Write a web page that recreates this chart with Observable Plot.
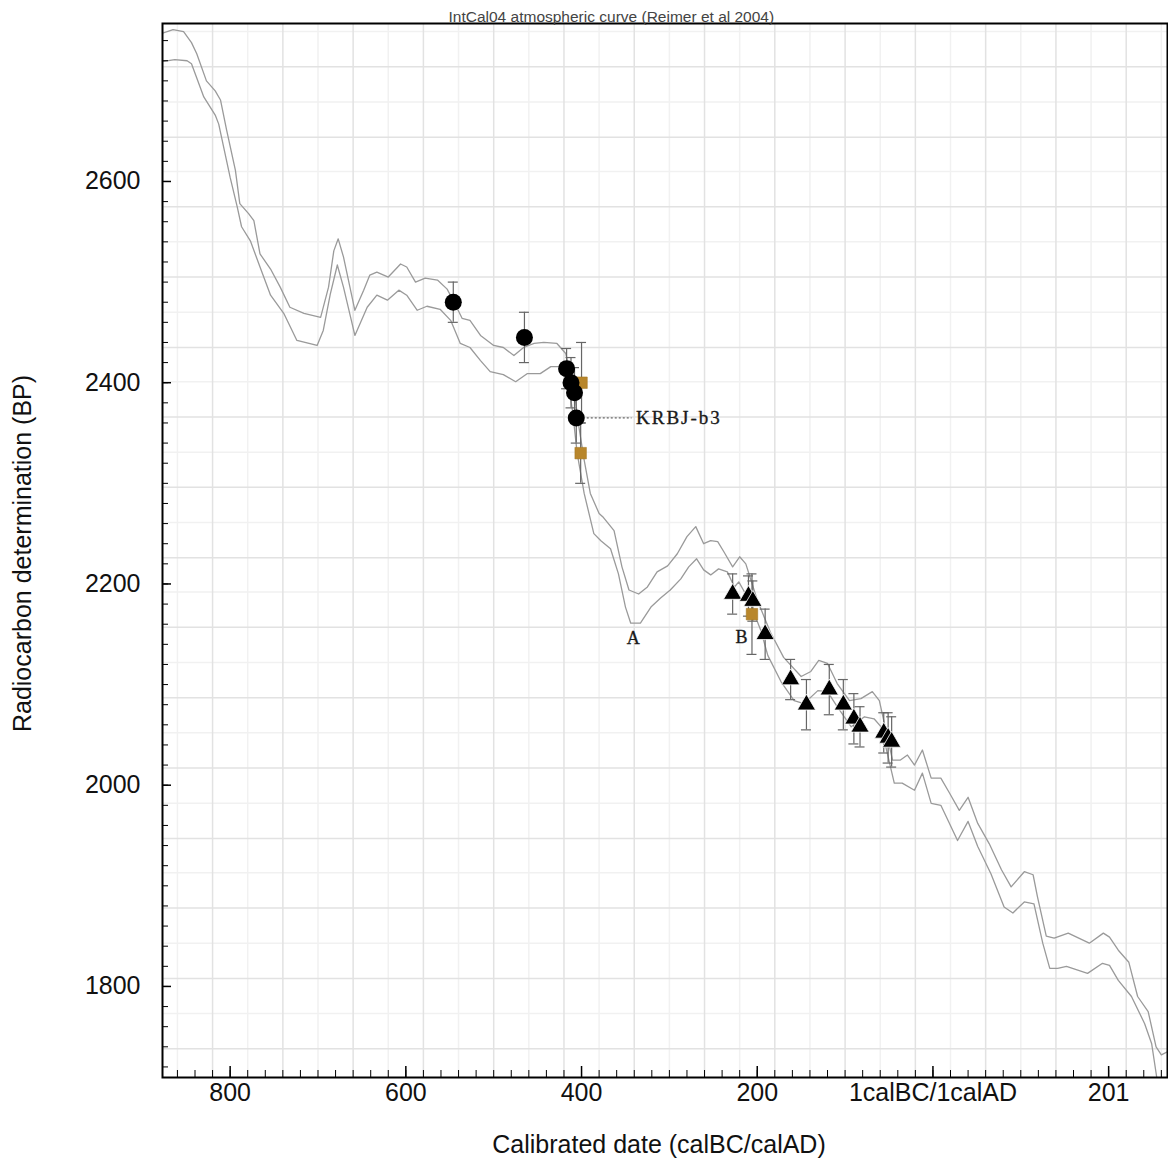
<!DOCTYPE html>
<html><head><meta charset="utf-8">
<script src="https://cdn.jsdelivr.net/npm/d3@7"></script>
<script src="https://cdn.jsdelivr.net/npm/@observablehq/plot@0.6"></script>
<style>html,body{margin:0;padding:0;background:#fff;}</style>
</head><body><div id="chart"></div>
<script>
// ---- Data (years: negative = BC, positive = AD) ----
const titleText = "IntCal04 atmospheric curve (Reimer et al 2004)";
const xTitle = "Calibrated date (calBC/calAD)";
const yTitle = "Radiocarbon determination (BP)";

const xDomain = [-877, 267];
const yDomain = [1709.5, 2757];

const xMajor = [-800, -600, -400, -200, 0, 200];
const xLabels = ["800", "600", "400", "200", "1calBC/1calAD", "201"];
const yMajor = [1800, 2000, 2200, 2400, 2600];

const gridXStrong = [-820,-740,-660,-580,-500,-420,-340,-260,-180,-100,-20,60,140,220];
const gridXFaint = [-860,-780,-700,-620,-540,-460,-380,-300,-220,-140,-60,20,100,180,260];
const gridYStrong = [2714,2644,2575,2505,2435,2366,2296,2226,2157,2087,2017,1947,1878,1808,1738];
const gridYFaint = [2749,2679,2610,2540,2470,2401,2331,2261,2192,2122,2052,1982,1913,1843,1773];

const upperYears = [-878,-865,-853,-844,-838,-827,-817,-811,-804,-794,-789,-779,-773,-766,-754,-743,-732,-716,-697,-688,-682,-677,-671,-658,-648,-641,-633,-620,-606,-599,-589,-578,-564,-553,-545,-536,-527,-515,-500,-489,-477,-466,-454,-443,-428,-418,-410,-405,-403,-397,-390,-380,-375,-363,-354,-346,-335,-325,-314,-302,-291,-280,-270,-261,-253,-245,-238,-228,-220,-213,-200,-185,-170,-150,-139,-130,-120,-109,-95,-82,-69,-61,-46,-37,-29,-21,-12,-2,9,19,30,40,51,64,78,89,104,114,119,129,138,154,178,194,201,211,223,233,245,254,260,267];
const upperBP = [2747,2751,2749,2738,2727,2700,2690,2681,2651,2611,2578,2568,2561,2528,2513,2495,2475,2469,2465,2495,2531,2543,2525,2472,2492,2507,2510,2505,2518,2515,2500,2504,2502,2493,2480,2464,2462,2447,2437,2435,2427,2435,2439,2440,2439,2429,2400,2370,2356,2323,2290,2270,2266,2253,2217,2194,2190,2197,2212,2218,2230,2247,2257,2240,2243,2242,2232,2217,2227,2220,2184,2152,2127,2108,2113,2124,2121,2101,2084,2086,2093,2084,2025,2025,2030,2020,2035,2007,2007,1992,1975,1988,1962,1942,1916,1899,1914,1911,1889,1850,1848,1853,1843,1853,1849,1836,1824,1790,1775,1740,1732,1735];

const lowerYears = [-878,-863,-849,-844,-830,-817,-813,-800,-792,-787,-777,-766,-754,-739,-724,-701,-694,-686,-678,-671,-658,-644,-633,-621,-608,-599,-587,-576,-561,-549,-538,-527,-515,-504,-489,-475,-462,-447,-435,-424,-415,-410,-405,-397,-386,-378,-367,-358,-350,-344,-333,-321,-310,-299,-287,-278,-269,-261,-253,-244,-234,-226,-221,-210,-196,-188,-173,-158,-147,-131,-120,-109,-93,-78,-67,-59,-44,-35,-21,-12,-2,9,28,40,51,66,81,91,104,115,125,133,142,152,176,193,201,211,226,241,249,254,258];
const lowerBP = [2719,2721,2720,2717,2684,2666,2657,2604,2575,2555,2541,2515,2487,2469,2442,2437,2452,2488,2517,2495,2447,2475,2487,2482,2492,2487,2472,2476,2473,2462,2439,2435,2422,2411,2408,2401,2409,2409,2416,2416,2400,2370,2330,2290,2250,2243,2235,2210,2177,2161,2161,2177,2186,2194,2205,2217,2225,2214,2209,2215,2212,2197,2202,2185,2154,2129,2103,2084,2081,2094,2093,2078,2058,2068,2066,2058,2002,2002,1995,2012,1982,1980,1945,1964,1939,1912,1879,1873,1884,1882,1843,1818,1818,1820,1813,1823,1821,1806,1790,1763,1743,1714,1690];

const circleYears = [-546, -465, -417, -412, -408, -406];
const circleBP    = [2480, 2445, 2414, 2400, 2390, 2365];
const circleErr   = [20, 25, 20, 25, 25, 25];

const squareYears = [-400, -401, -206];
const squareBP    = [2400, 2330, 2170];
const squareErr   = [40, 30, 40];

const triangleYears = [-228, -210, -205, -191, -162, -144, -118, -102, -90, -83, -56, -51, -47];
const triangleBP    = [2190, 2188, 2183, 2150, 2105, 2080, 2095, 2080, 2066, 2058, 2052, 2047, 2043];
const triangleErr   = [20, 20, 20, 25, 20, 25, 25, 25, 25, 20, 20, 25, 25];

const annoText  = ["KRBJ-b3", "A", "B"];
const annoYears = [-338, -341, -218];
const annoBP    = [2365, 2146, 2147];
const leaderFromYear = -406;

// ---- Build tables ----
const zipSeries = (xs, ys) => xs.slice(0, Math.min(xs.length, ys.length)).map((x, i) => ({year: x, bp: ys[i]}));
const upper = zipSeries(upperYears, upperBP);
const lower = zipSeries(lowerYears, lowerBP);
const pts = (xs, ys, es) => xs.map((x, i) => ({year: x, bp: ys[i], err: es[i]}));
const circles = pts(circleYears, circleBP, circleErr);
const squares = pts(squareYears, squareBP, squareErr);
const triangles = pts(triangleYears, triangleBP, triangleErr);
const allPts = [...squares, ...circles, ...triangles];
const annos = annoText.map((t, i) => ({text: t, year: annoYears[i], bp: annoBP[i]}));
const krbj = annos[0];

const xMinor = d3.range(-860, 267, 20);
const yMinor = d3.range(1720, 2757, 20);

const serif = "'Liberation Serif', 'DejaVu Serif', serif";

const chart = Plot.plot({
  width: 1168, height: 1167,
  marginLeft: 162, marginRight: 1, marginTop: 23, marginBottom: 90,
  style: {fontFamily: "'Liberation Sans', Arial, sans-serif", fontSize: "25px", background: "#fff", color: "#111", overflow: "visible"},
  x: {domain: xDomain},
  y: {domain: yDomain},
  marks: [
    Plot.ruleX(gridXFaint, {x: d => d, stroke: "#f1f1f1", strokeWidth: 1.5}),
    Plot.ruleY(gridYFaint, {y: d => d, stroke: "#f1f1f1", strokeWidth: 1.5}),
    Plot.ruleX(gridXStrong, {x: d => d, stroke: "#e2e2e2", strokeWidth: 1.5}),
    Plot.ruleY(gridYStrong, {y: d => d, stroke: "#e2e2e2", strokeWidth: 1.5}),
    Plot.line(upper, {x: "year", y: "bp", stroke: "#9a9a9a", strokeWidth: 1.3, clip: true}),
    Plot.line(lower, {x: "year", y: "bp", stroke: "#9a9a9a", strokeWidth: 1.3, clip: true}),
    // error bars
    Plot.ruleX(allPts, {x: "year", y1: d => d.bp - d.err, y2: d => d.bp + d.err, stroke: "#666", strokeWidth: 1.2}),
    Plot.ruleY(allPts, {y: d => d.bp + d.err, x1: "year", x2: "year", insetLeft: -5, insetRight: -5, stroke: "#666", strokeWidth: 1.2}),
    Plot.ruleY(allPts, {y: d => d.bp - d.err, x1: "year", x2: "year", insetLeft: -5, insetRight: -5, stroke: "#666", strokeWidth: 1.2}),
    // markers
    Plot.dot(squares, {x: "year", y: "bp", symbol: "square", r: 6.5, fill: "#b8862b", stroke: "#a0741f", strokeWidth: 0.5}),
    Plot.dot(circles, {x: "year", y: "bp", symbol: "circle", r: 8.5, fill: "#000", stroke: "none"}),
    Plot.dot(triangles, {x: "year", y: "bp", symbol: "triangle", r: 6.8, fill: "#000", stroke: "#fff", strokeWidth: 0.8}),
    // annotation leader
    Plot.ruleY([krbj], {y: "bp", x1: () => leaderFromYear, x2: "year", insetLeft: 11, insetRight: 4, stroke: "#444", strokeWidth: 1, strokeDasharray: "2,2"}),
    Plot.text([annos[0]], {x: "year", y: "bp", text: "text", textAnchor: "start", fontFamily: serif, fontSize: 19, fill: "#1a1a1a", stroke: "#1a1a1a", strokeWidth: 0.35, className: "anno-krbj"}),
    Plot.text(annos.slice(1), {x: "year", y: "bp", text: "text", fontFamily: serif, fontSize: 18, fill: "#1a1a1a", stroke: "#1a1a1a", strokeWidth: 0.35}),
    // inward ticks
    Plot.ruleX(xMinor, {x: d => d, y1: () => yDomain[0], y2: () => yDomain[0], insetTop: -7, stroke: "#000", strokeWidth: 1}),
    Plot.ruleX(xMajor, {x: d => d, y1: () => yDomain[0], y2: () => yDomain[0], insetTop: -11, stroke: "#000", strokeWidth: 1.5}),
    Plot.ruleY(yMinor, {y: d => d, x1: () => xDomain[0], x2: () => xDomain[0], insetRight: -6, stroke: "#000", strokeWidth: 1}),
    Plot.ruleY(yMajor, {y: d => d, x1: () => xDomain[0], x2: () => xDomain[0], insetRight: -9, stroke: "#000", strokeWidth: 1.5}),
    Plot.frame({stroke: "#000", strokeWidth: 2}),
    Plot.axisX(xMajor, {tickSize: 0, tickPadding: 6, tickFormat: d => xLabels[xMajor.indexOf(d)], label: null, fontSize: 25, fill: "#111"}),
    Plot.axisY(yMajor, {tickSize: 0, tickPadding: 22, tickFormat: d => String(d), label: null, fontSize: 25, fill: "#111"}),
    // titles
    Plot.text([titleText], {frameAnchor: "top-left", dx: 286, dy: -2, textAnchor: "start", lineAnchor: "bottom", fontSize: 15.5, fill: "#444"}),
    Plot.text([xTitle], {frameAnchor: "bottom", dx: -6, dy: 75, textAnchor: "middle", fontSize: 25, fill: "#111"}),
    Plot.text([yTitle], {frameAnchor: "left", dx: -140, dy: 3, rotate: -90, textAnchor: "middle", fontSize: 25, fill: "#111"})
  ]
});
d3.select(chart).selectAll("text").filter(function () { return this.textContent === "KRBJ-b3"; }).attr("letter-spacing", 2);
document.getElementById("chart").appendChild(chart);
</script>
</body></html>
